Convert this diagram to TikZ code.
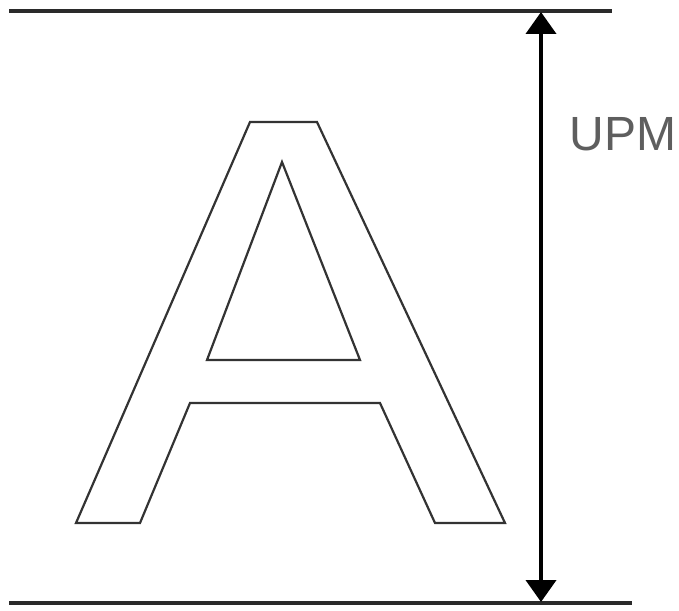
\documentclass[tikz,border=0pt]{standalone}
\usepackage{fontspec}
\setmainfont{Liberation Sans}
\usetikzlibrary{arrows.meta}
\definecolor{rulegray}{HTML}{2A2A2A}
\definecolor{glyphgray}{HTML}{333333}
\definecolor{labelgray}{HTML}{5E5E5E}
\begin{document}
\begin{tikzpicture}[x=1pt,y=-1pt,
  rule/.style={draw=rulegray,line width=4.5pt},
  glyph/.style={draw=glyphgray,line width=2.2pt,line join=miter},
  dim/.style={draw=black,line width=4pt,{Triangle[length=22pt,width=30pt]}-{Triangle[length=22pt,width=30pt]}},
  lbl/.style={text=labelgray,font=\fontsize{48}{48}\selectfont,inner sep=0pt}]
\useasboundingbox (0,0) rectangle (679,610);
% baselines
\coordinate (tl) at (9,11);
\coordinate (tr) at (612,11);
\coordinate (bl) at (9,603);
\coordinate (br) at (632,603);
\draw[rule] (tl) -- (tr);
\draw[rule] (bl) -- (br);
% dimension arrow
\coordinate (atop) at (541,12);
\coordinate (abot) at (541,602);
\draw[dim] (atop) -- (abot);
\node[lbl] (upm) at (623,134) {UPM};
% glyph A outline
\draw[glyph] (250,122) -- (317,122) -- (505,523) -- (435,523) -- (380,403)
  -- (190,403) -- (140,523) -- (76,523) -- cycle;
% counter
\draw[glyph] (282,162) -- (360,360) -- (207,360) -- cycle;
\end{tikzpicture}
\end{document}
